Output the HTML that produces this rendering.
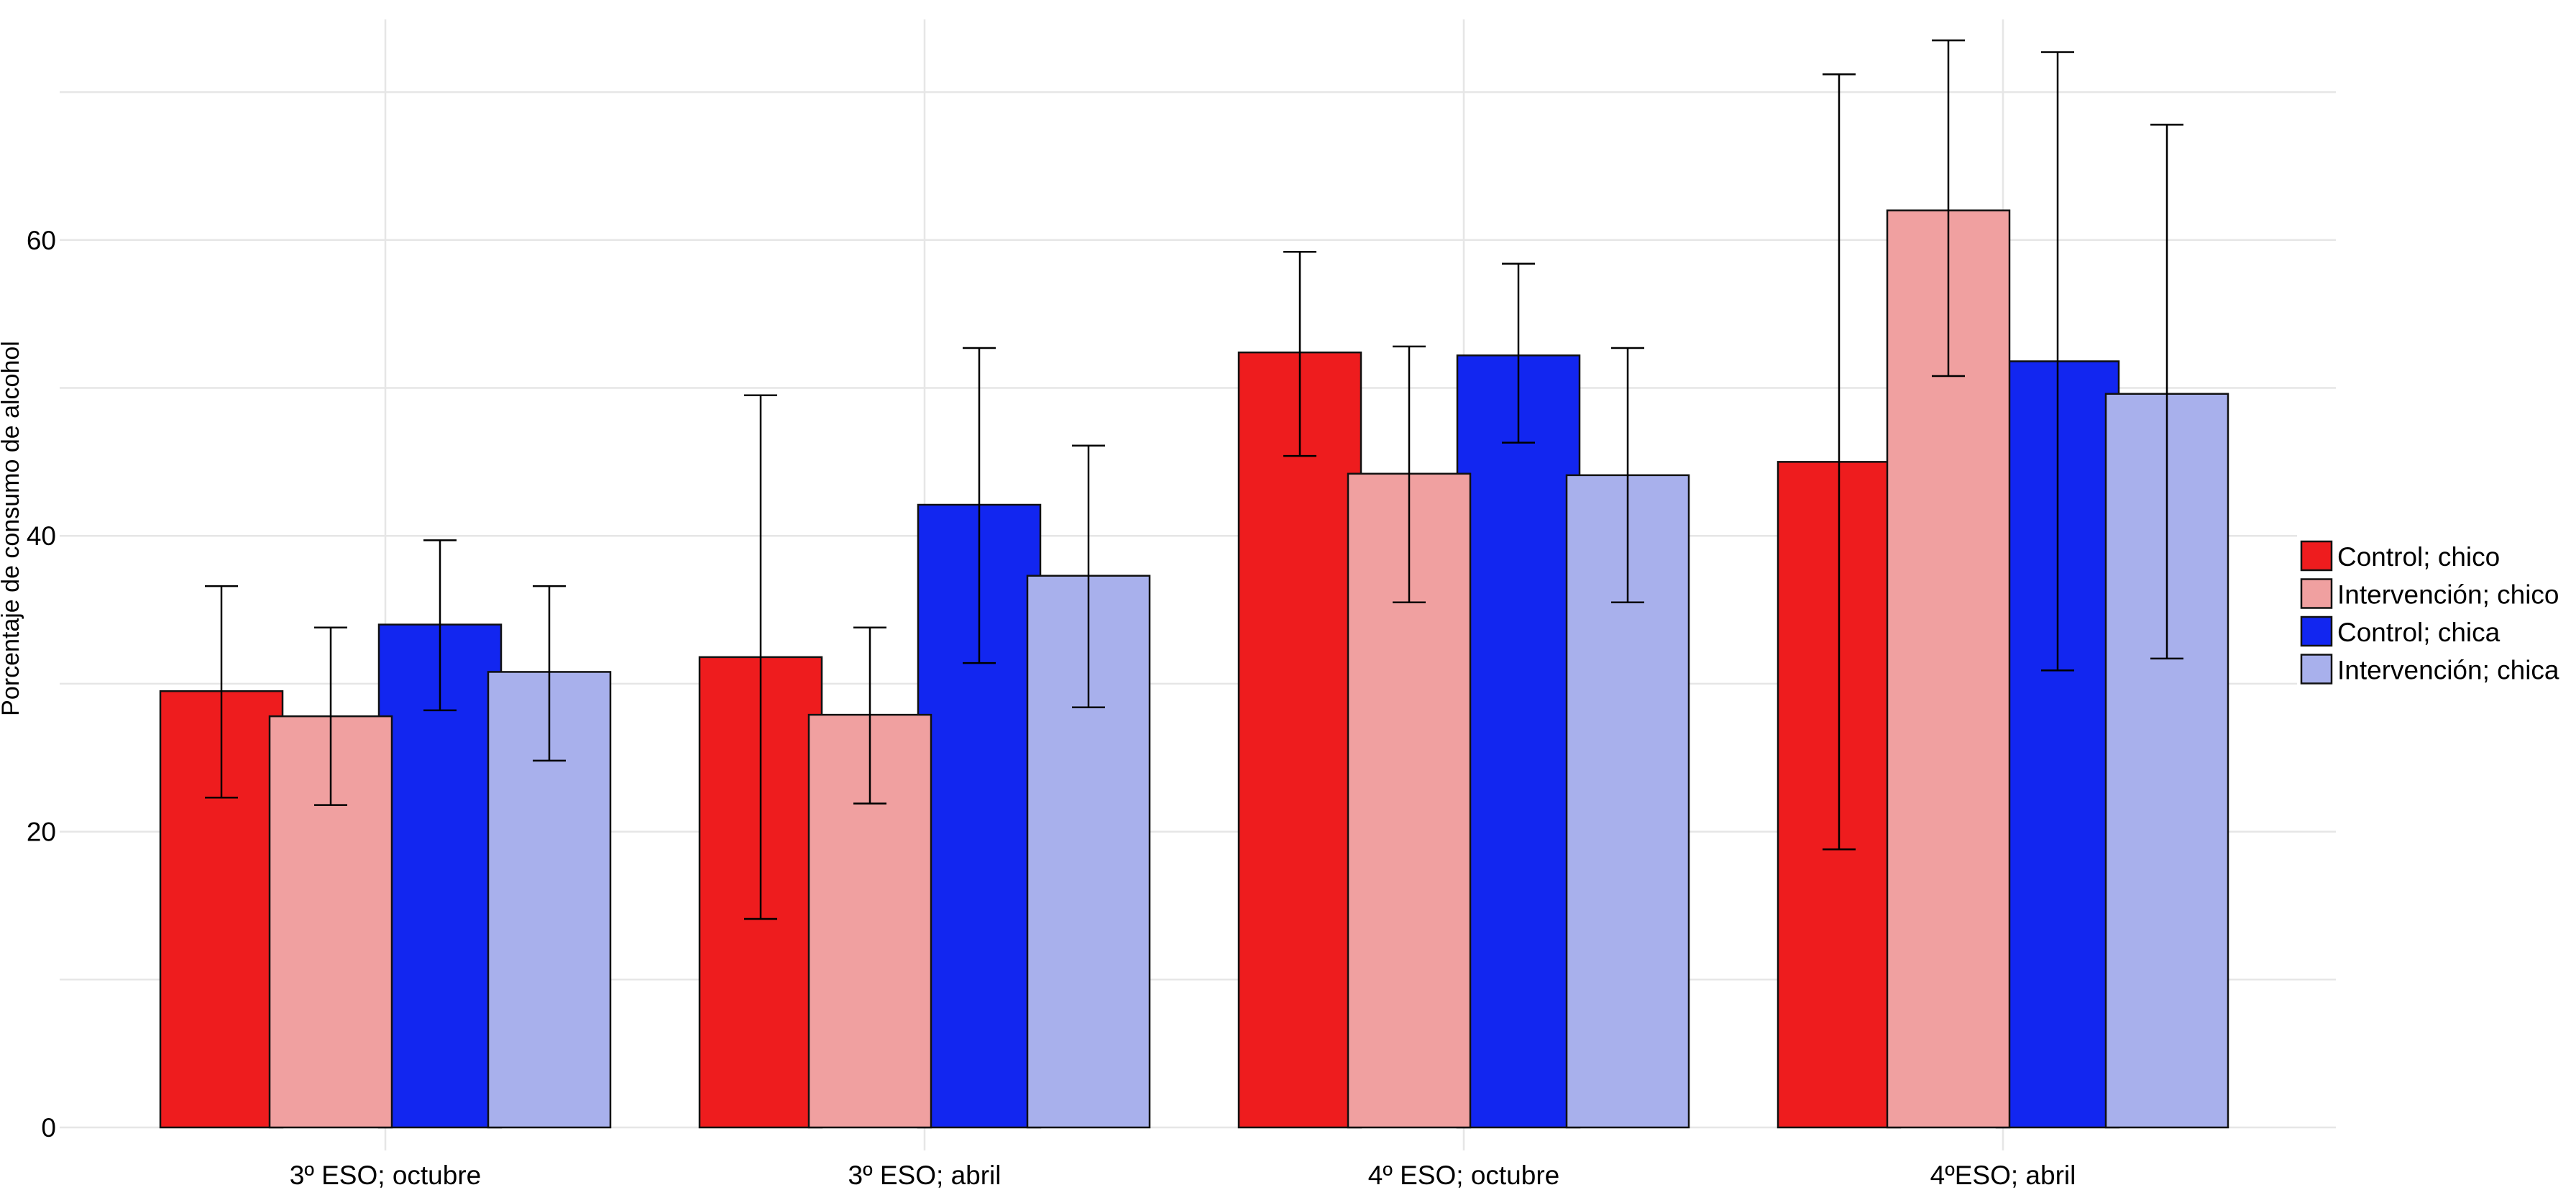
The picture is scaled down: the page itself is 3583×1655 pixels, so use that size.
<!DOCTYPE html>
<html><head><meta charset="utf-8"><style>
html,body{margin:0;padding:0;background:#fff;}
svg{display:block;font-family:"Liberation Sans",sans-serif;}
</style></head><body>
<svg id="chart" width="3583" height="1655" viewBox="0 0 3583 1655" xmlns="http://www.w3.org/2000/svg">
<g id="grid"></g>
<g id="bars"></g>
<g id="errs"></g>
<g id="axes"></g>
<text transform="translate(26,735) rotate(-90)" text-anchor="middle" font-size="34" fill="#000">Porcentaje de consumo de alcohol</text>
<g id="legend"></g>
</svg>
<script>
const categories = ["3º ESO; octubre","3º ESO; abril","4º ESO; octubre","4ºESO; abril"];
const seriesNames = ["Control; chico","Intervención; chico","Control; chica","Intervención; chica"];
const seriesColors = ["#ee1c1e","#f0a0a0","#1226f0","#a8b0ec"];
const controlChico = [29.5,31.8,52.4,45.0];
const intervChico = [27.8,27.9,44.2,62.0];
const controlChica = [34.0,42.1,52.2,51.8];
const intervChica = [30.8,37.3,44.1,49.6];
const lowerCC = [22.3,14.1,45.4,18.8];
const upperCC = [36.6,49.5,59.2,71.2];
const lowerIC = [21.8,21.9,35.5,50.8];
const upperIC = [33.8,33.8,52.8,73.5];
const lowerCA = [28.2,31.4,46.3,30.9];
const upperCA = [39.7,52.7,58.4,72.7];
const lowerIA = [24.8,28.4,35.5,31.7];
const upperIA = [36.6,46.1,52.7,67.8];
const yTicks = [0,20,40,60];
const yGrid = [0,10,20,30,40,50,60,70];

const values=[controlChico,intervChico,controlChica,intervChica];
const lowers=[lowerCC,lowerIC,lowerCA,lowerIA];
const uppers=[upperCC,upperIC,upperCA,upperIA];
const NS="http://www.w3.org/2000/svg";
const y=v=>1568-v*20.57;
const xc=i=>536+i*750;
const step=152, bw=170, cap=46;
function mk(tag,attrs,parent){const e=document.createElementNS(NS,tag);for(const k in attrs)e.setAttribute(k,attrs[k]);parent.appendChild(e);return e;}
const grid=document.getElementById('grid'),bars=document.getElementById('bars'),errs=document.getElementById('errs'),axes=document.getElementById('axes'),legend=document.getElementById('legend');
yGrid.forEach(v=>{const l=mk('line',{x1:83,x2:3249,y1:y(v),y2:y(v),stroke:'#e6e6e6','stroke-width':2.5},grid);

});
categories.forEach((c,i)=>{const l=mk('line',{x1:xc(i),x2:xc(i),y1:27,y2:1600,stroke:'#e6e6e6','stroke-width':2.5},grid);


const t=mk('text',{x:xc(i),y:1647,'text-anchor':'middle','font-size':37,fill:'#000'},axes);t.textContent=c;

});
yTicks.forEach(v=>{const t=mk('text',{x:78,y:y(v)+13,'text-anchor':'end','font-size':37,fill:'#000'},axes);t.textContent=v;

});
const order=[0,2,1,3];
categories.forEach((c,i)=>{order.forEach(s=>{const cx=xc(i)+(s-1.5)*step;const v=values[s][i];
const r=mk('rect',{x:cx-bw/2,y:y(v),width:bw,height:y(0)-y(v),fill:seriesColors[s],stroke:'#111','stroke-width':2.5},bars);

});
[0,1,2,3].forEach(s=>{const cx=xc(i)+(s-1.5)*step;const lo=y(lowers[s][i]),hi=y(uppers[s][i]);
const g=mk('g',{stroke:'#000','stroke-width':2.5},errs);


mk('line',{x1:cx,x2:cx,y1:lo,y2:hi},g);mk('line',{x1:cx-cap/2,x2:cx+cap/2,y1:lo,y2:lo},g);mk('line',{x1:cx-cap/2,x2:cx+cap/2,y1:hi,y2:hi},g);});});
mk('rect',{x:3195,y:740,width:388,height:220,fill:'#fff'},legend);
seriesNames.forEach((n,s)=>{const yy=753+s*52.5;
const e=mk('g',{},legend);


mk('rect',{x:3201,y:yy,width:42,height:40,fill:seriesColors[s],stroke:'#111','stroke-width':2.5},e);
const t=mk('text',{x:3251,y:yy+34,'font-size':37,fill:'#000'},e);t.textContent=n;});
</script>
</body></html>
